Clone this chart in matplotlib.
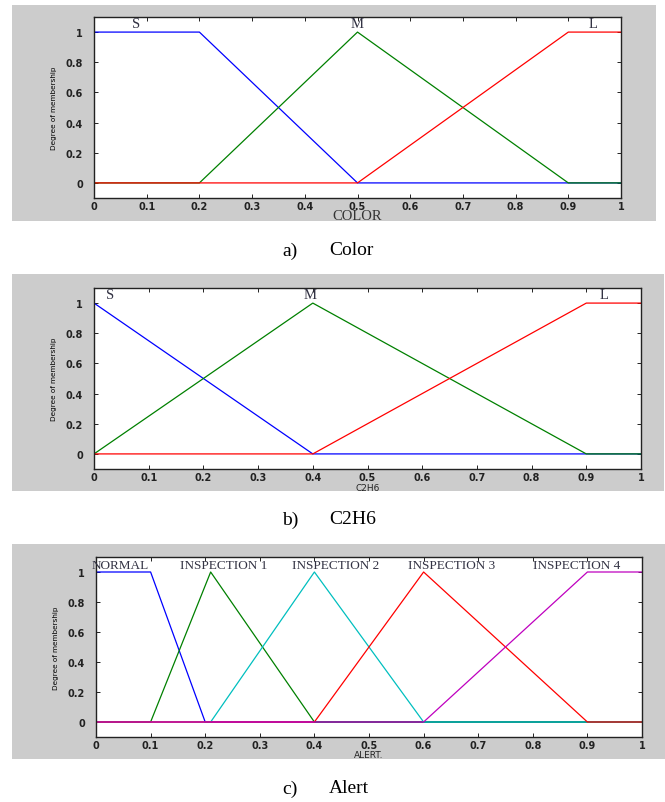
import matplotlib
matplotlib.use("Agg")
import matplotlib.pyplot as plt
from matplotlib.patches import Rectangle

# membership functions (x breakpoints, y values)
color_x = [[0, 0.2, 0.5, 1], [0, 0.2, 0.5, 0.9, 1], [0, 0.5, 0.9, 1]]
color_y = [[1, 1, 0, 0], [0, 0, 1, 0, 0], [0, 0, 1, 1]]
color_names = ["S", "M", "L"]

c2h6_x = [[0, 0.4, 1], [0, 0.4, 0.9, 1], [0, 0.4, 0.9, 1]]
c2h6_y = [[1, 0, 0], [0, 1, 0, 0], [0, 0, 1, 1]]
c2h6_names = ["S", "M", "L"]

alert_x = [[0, 0.1, 0.2, 1], [0, 0.1, 0.21, 0.4, 1], [0, 0.21, 0.4, 0.6, 1],
           [0, 0.4, 0.6, 0.9, 1], [0, 0.6, 0.9, 1]]
alert_y = [[1, 1, 0, 0], [0, 0, 1, 0, 0], [0, 0, 1, 0, 0],
           [0, 0, 1, 0, 0], [0, 0, 1, 1]]
alert_names = ["NORMAL", "INSPECTION 1", "INSPECTION 2", "INSPECTION 3", "INSPECTION 4"]

xticks = [0, 0.1, 0.2, 0.3, 0.4, 0.5, 0.6, 0.7, 0.8, 0.9, 1]
xticklabels = ["0", "0.1", "0.2", "0.3", "0.4", "0.5", "0.6", "0.7", "0.8", "0.9", "1"]
yticks = [0, 0.2, 0.4, 0.6, 0.8, 1]
yticklabels = ["0", "0.2", "0.4", "0.6", "0.8", "1"]

W, H = 665, 803
fig = plt.figure(figsize=(W / 100, H / 100), dpi=100)
fig.patch.set_facecolor("white")


def fx(px):
    return px / W


def fy(py):
    return 1 - py / H


def panel(gray, box, xs, ys, names, colors, label_pos, label_y, label_size,
          xlabel, xlabel_font, xlabel_y, caption_y, caption):
    gx0, gy0, gx1, gy1 = gray
    fig.patches.append(Rectangle((fx(gx0), fy(gy1)), fx(gx1 - gx0), (gy1 - gy0) / H,
                                 transform=fig.transFigure, facecolor="#cccccc",
                                 edgecolor="none", zorder=-10))
    x0, y0, x1, y1 = box
    ax = fig.add_axes([fx(x0), fy(y1), fx(x1 - x0), (y1 - y0) / H])
    ax.set_zorder(5)
    ax.set_facecolor("white")
    for x, y, c in zip(xs, ys, colors):
        ax.plot(x, y, color=c, lw=0.9)
    for name, p in zip(names, label_pos):
        ax.text(p, label_y, name, ha="center", va="center", family="Liberation Serif",
                fontsize=label_size, color="#333344", clip_on=False)
    ax.set_xlim(0, 1)
    ax.set_ylim(-0.1, 1.1)
    ax.set_xticks(xticks)
    ax.set_xticklabels(xticklabels)
    ax.set_yticks(yticks)
    ax.set_yticklabels(yticklabels)
    ax.tick_params(direction="in", top=True, right=True, length=3, width=0.6,
                   labelsize=7)
    ax.tick_params(axis="x", pad=2)
    ax.tick_params(axis="y", pad=8)
    for lab in ax.get_xticklabels() + ax.get_yticklabels():
        lab.set_fontweight("bold")
        lab.set_color("#222222")
    for s in ax.spines.values():
        s.set_linewidth(1.0)
        s.set_color("#222222")
    ax.set_ylabel("Degree of membership", fontsize=5.2, labelpad=6)
    ax.set_xlabel(xlabel, va="center", **xlabel_font)
    ax.xaxis.set_label_coords(0.5, xlabel_y)
    a, b = caption.split("|")
    fig.text(fx(282), fy(caption_y), a, ha="left", va="center",
             family="Liberation Serif", fontsize=14)
    fig.text(fx(329), fy(caption_y), b, ha="left", va="center",
             family="Liberation Serif", fontsize=14)
    return ax


panel((12, 6, 656, 222), (94, 18, 621, 199), color_x, color_y, color_names,
      ["blue", "green", "red"], [0.08, 0.50, 0.947], 1.06, 10.5, "COLOR",
      dict(family="Liberation Serif", fontsize=10.5, color="#333333"), -0.098,
      251, "a)|Color")

panel((12, 275, 664, 492), (94, 289, 641, 470), c2h6_x, c2h6_y, c2h6_names,
      ["blue", "green", "red"], [0.03, 0.395, 0.932], 1.06, 10.5, "C2H6",
      dict(fontsize=6.5, color="#222222"), -0.1, 520, "b)|C2H6")

panel((12, 545, 665, 760), (96, 558, 642, 738), alert_x, alert_y, alert_names,
      ["blue", "green", "c", "red", "m"], [0.044, 0.233, 0.438, 0.652, 0.881],
      1.045, 9.5, "ALERT.", dict(fontsize=6.5, color="#222222"), -0.095,
      789, "c)|Alert")

fig.savefig("out.png", dpi=100)
